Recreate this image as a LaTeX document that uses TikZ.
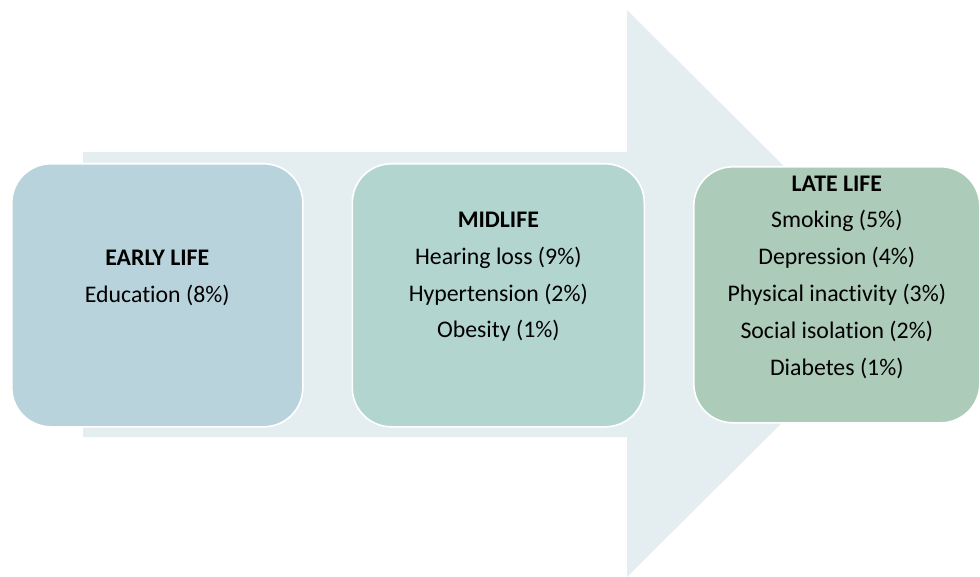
\documentclass[tikz,border=0pt]{standalone}
\usepackage{fontspec}
\setmainfont{Carlito}[Ligatures=NoCommon]
\begin{document}
\begin{tikzpicture}[x=1pt,y=-1pt,
  shaftcol/.style={fill=arrowfill},
  stage/.style={rectangle, rounded corners=39pt, draw=white, line width=1.6pt,
    inner sep=0pt, anchor=north west},
  stagetext/.style={align=center, inner sep=0pt, anchor=center,
    font=\fontsize{23.8}{36.8}\selectfont}]
  \definecolor{arrowfill}{HTML}{E4EEF1}
  \definecolor{earlyfill}{HTML}{B9D3DC}
  \definecolor{midfill}{HTML}{B3D5CF}
  \definecolor{latefill}{HTML}{ADCBB9}
  \useasboundingbox (0,0) rectangle (980,577);

  % broad background arrow
  \fill[shaftcol] (83,152) -- (627,152) -- (627,10) -- (912,293.5)
    -- (627,577) -- (627,437) -- (83,437) -- cycle;

  % the three life stages
  \node[stage, fill=earlyfill, minimum width=291pt, minimum height=263pt] (early) at (11,163) {};
  \node[stage, fill=midfill, minimum width=292pt, minimum height=263pt] (mid) at (351.5,163) {};
  \node[stage, fill=latefill, minimum width=286pt, minimum height=256pt] (late) at (693,166) {};

  \node[stagetext] (earlytext) at (early.center |- 0,278)
    {\textbf{EARLY LIFE}\\Education (8\%)};
  \node[stagetext] (midtext) at (mid.center |- 0,277)
    {\textbf{MIDLIFE}\\Hearing loss (9\%)\\Hypertension (2\%)\\Obesity (1\%)};
  \node[stagetext] (latetext) at (late.center |- 0,277)
    {\textbf{LATE LIFE}\\Smoking (5\%)\\Depression (4\%)\\Physical inactivity (3\%)\\Social isolation (2\%)\\Diabetes (1\%)};
\end{tikzpicture}
\end{document}
